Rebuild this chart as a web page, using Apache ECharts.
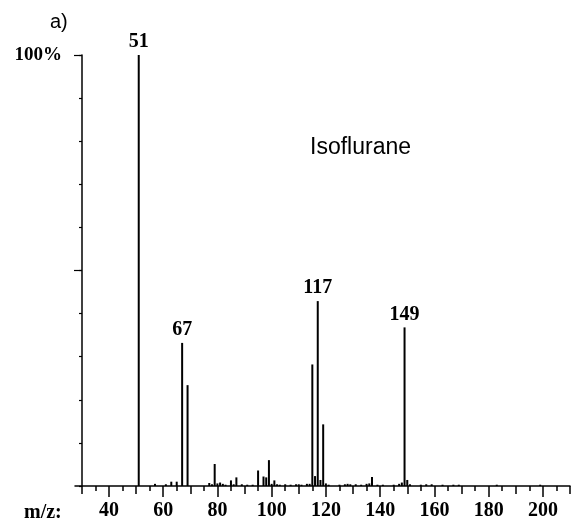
<!DOCTYPE html>
<html>
<head>
<meta charset="utf-8">
<script src="https://cdn.jsdelivr.net/npm/echarts@6/dist/echarts.min.js"></script>
<style>
html,body{margin:0;padding:0;background:#fff;}
#chart{width:575px;height:521px;}
</style>
</head>
<body>
<div id="chart"></div>
<script>
// m/z values of the peaks
var mz = [51, 67, 69, 115, 117, 119, 149,
  79, 95, 97, 98, 99, 87, 85, 137, 116, 118, 150, 63, 65, 101, 120,
  57, 61, 77, 78, 80, 81, 82, 83, 86, 89, 91, 93, 100, 102, 103, 105, 107, 109, 110, 111, 113, 114,
  121, 125, 127, 128, 129, 131, 133, 135, 136, 139, 141, 145, 147, 148, 151, 155, 157, 159, 163, 167, 169, 183, 199];
// relative intensities (%)
var intensity = [100, 33.2, 23.4, 28.2, 42.9, 14.3, 36.8,
  5.1, 3.6, 2.2, 2.0, 6.0, 2.0, 1.3, 2.1, 2.3, 1.4, 1.4, 1.0, 1.0, 1.3, 0.6,
  0.5, 0.4, 0.7, 0.4, 0.6, 0.8, 0.5, 0.3, 0.4, 0.4, 0.3, 0.3, 0.5, 0.4, 0.3, 0.4, 0.3, 0.4, 0.4, 0.3, 0.5, 0.5,
  0.3, 0.3, 0.4, 0.5, 0.4, 0.4, 0.3, 0.5, 0.6, 0.3, 0.3, 0.3, 0.5, 0.8, 0.4, 0.3, 0.4, 0.4, 0.3, 0.3, 0.3, 0.3, 0.3];
// peaks carrying a label
var labeledPeaks = [51, 67, 117, 149];
// x-axis tick values
var minorTicks = [35, 45, 55, 65, 75, 85, 95, 105, 115, 125, 135, 145, 155, 165, 175, 185, 195, 205];
var midTicks = [30, 50, 70, 90, 110, 130, 150, 170, 190, 210];
var majorTicks = [40, 60, 80, 100, 120, 140, 160, 180, 200];
// y-axis tick values
var yMajorTicks = [50, 100];

var serif = '"Liberation Serif","Times New Roman",serif';
var sans = '"Liberation Sans",Arial,sans-serif';
var X_MIN = 27.5, X_MAX = 210;

var data = mz.map(function (m, i) {
  var item = { value: [m, intensity[i]] };
  if (labeledPeaks.indexOf(m) >= 0) {
    item.label = {
      show: true, position: 'top', distance: 3,
      formatter: String(m),
      fontFamily: serif, fontWeight: 'bold', fontSize: 20, color: '#000'
    };
  }
  return item;
});

var chart = echarts.init(document.getElementById('chart'), null, { renderer: 'canvas' });
var axisCommon = {
  type: 'value', min: X_MIN, max: X_MAX, position: 'bottom', offset: 0,
  splitLine: { show: false }
};
chart.setOption({
  backgroundColor: '#fff',
  animation: false,
  grid: { left: 75, right: 5, top: 55, bottom: 35 },
  xAxis: [
    Object.assign({}, axisCommon, {
      axisLine: { show: true, lineStyle: { color: '#000', width: 1.5 } },
      axisTick: { show: true, customValues: minorTicks, length: 5, lineStyle: { color: '#000', width: 1.5 } },
      axisLabel: { show: false }
    }),
    Object.assign({}, axisCommon, {
      axisLine: { show: false },
      axisTick: { show: true, customValues: midTicks, length: 8, lineStyle: { color: '#000', width: 1.5 } },
      axisLabel: { show: false }
    }),
    Object.assign({}, axisCommon, {
      axisLine: { show: false },
      axisTick: { show: true, customValues: majorTicks, length: 11, lineStyle: { color: '#000', width: 1.5 } },
      axisLabel: { show: true, customValues: majorTicks, margin: 15, fontFamily: serif, fontWeight: 'bold', fontSize: 20, color: '#000' }
    })
  ],
  yAxis: [
    {
      type: 'value', min: 0, max: 100, interval: 10, position: 'left', offset: -7,
      splitLine: { show: false },
      axisLine: { show: true, lineStyle: { color: '#000', width: 1.5 } },
      axisTick: { show: true, length: 3, lineStyle: { color: '#000', width: 1.2 } },
      axisLabel: { show: false }
    },
    {
      type: 'value', min: 0, max: 100, position: 'left', offset: -7,
      splitLine: { show: false },
      axisLine: { show: false },
      axisTick: { show: true, customValues: yMajorTicks, length: 8, lineStyle: { color: '#000', width: 1.2 } },
      axisLabel: {
        show: true, customValues: [100], margin: 20,
        formatter: function (v) { return v === 100 ? '100%' : ''; },
        fontFamily: serif, fontWeight: 'bold', fontSize: 19, color: '#000'
      }
    }
  ],
  series: [{
    type: 'bar', xAxisIndex: 0, yAxisIndex: 0,
    barWidth: 2, data: data,
    itemStyle: { color: '#000' },
    label: { show: false }
  }],
  graphic: [
    { type: 'text', left: 50, top: 12, style: { text: 'a)', font: '20px ' + sans, fill: '#000' } },
    { type: 'text', left: 310, top: 136, style: { text: 'Isoflurane', font: '23px ' + sans, fill: '#000' } },
    { type: 'text', left: 24, top: 503, style: { text: 'm/z:', font: 'bold 20px ' + serif, fill: '#000' } }
  ]
});
</script>
</body>
</html>
